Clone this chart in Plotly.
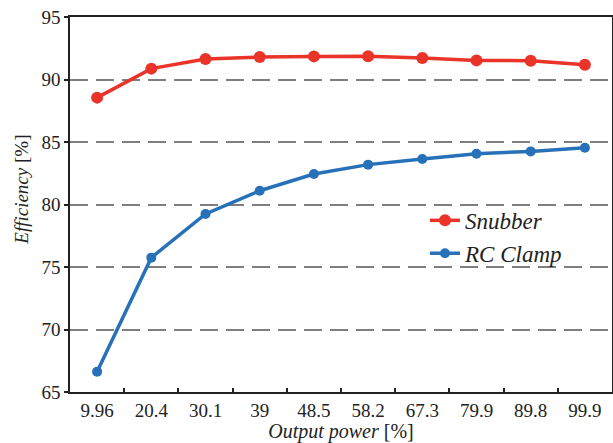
import plotly.graph_objects as go

categories = ["9.96", "20.4", "30.1", "39", "48.5", "58.2", "67.3", "79.9", "89.8", "99.9"]
snubber = [88.55, 90.87, 91.64, 91.8, 91.85, 91.86, 91.72, 91.53, 91.5, 91.18]
rc_clamp = [66.63, 75.75, 79.24, 81.1, 82.44, 83.19, 83.64, 84.06, 84.25, 84.54]
y_ticks = [65, 70, 75, 80, 85, 90, 95]

FONT = "'Liberation Serif', 'Times New Roman', serif"
RED = "rgb(234,51,41)"
BLUE = "rgb(39,113,185)"

fig = go.Figure()
fig.add_trace(go.Scatter(x=categories, y=snubber, mode="lines+markers", name="<i>Snubber</i>",
                         line=dict(color=RED, width=3.5), marker=dict(color=RED, size=12)))
fig.add_trace(go.Scatter(x=categories, y=rc_clamp, mode="lines+markers", name="<i>RC Clamp</i>",
                         line=dict(color=BLUE, width=3.5), marker=dict(color=BLUE, size=10)))

fig.update_layout(
    width=613, height=443,
    margin=dict(l=70, r=1, t=17, b=51, autoexpand=False),
    paper_bgcolor="white", plot_bgcolor="white",
    font=dict(family=FONT, size=19, color="#222"),
    legend=dict(x=0.655, y=0.515, xanchor="left", yanchor="top", bgcolor="rgba(255,255,255,0)",
                font=dict(family=FONT, size=23, color="#222"), tracegroupgap=0, itemwidth=30),
    showlegend=True,
    annotations=[dict(text="<i>Efficiency</i> [%]", xref="paper", yref="paper",
                      x=-0.09, y=0.54, xanchor="center", yanchor="middle", textangle=-90,
                      showarrow=False, font=dict(family=FONT, size=19, color="#222"))],
)
fig.update_xaxes(
    type="category", range=[-0.5, 9.5], automargin=False,
    showline=True, linecolor="#222", linewidth=1.5, mirror=True,
    ticks="inside", tickson="boundaries", ticklen=4, tickcolor="#222", tickwidth=1.5,
    showgrid=False, zeroline=False,
    title=dict(text="<i>Output power</i> [%]", font=dict(family=FONT, size=20), standoff=5),
)
fig.update_yaxes(
    range=[65, 95], tickvals=y_ticks, automargin=False,
    showline=True, linecolor="#222", linewidth=1.5, mirror=True,
    ticks="outside", ticklen=4, tickcolor="#222", tickwidth=1.5,
    showgrid=True, gridcolor="#7f7f7f", gridwidth=1.5, griddash="18px,8px",
    zeroline=False,
)
fig.write_html("out.html", config={"displayModeBar": False},
               post_script="document.body.style.margin='0';")
